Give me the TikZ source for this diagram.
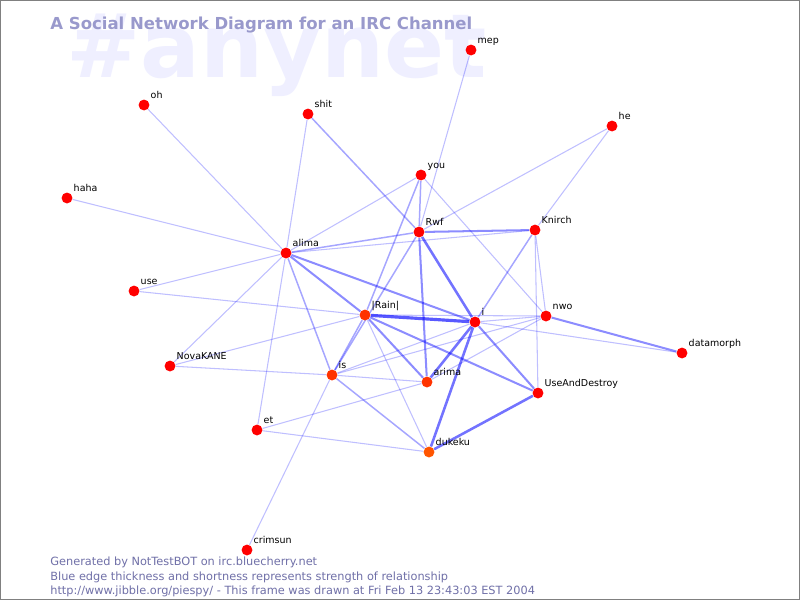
\documentclass[tikz,border=0pt]{standalone}
\usepackage{fontspec}
\setmainfont{DejaVu Sans}
\definecolor{titleblue}{HTML}{9999CC}
\definecolor{markblue}{HTML}{EFEFFF}
\definecolor{footblue}{HTML}{7070A8}
\definecolor{edgeblue}{HTML}{0000FF}
\definecolor{userred}{HTML}{FF0000}
\definecolor{userorange}{HTML}{FF3300}
\definecolor{userlight}{HTML}{FF5500}
\pgfdeclarelayer{back}
\pgfdeclarelayer{ties}
\pgfsetlayers{back,ties,main}
\tikzset{
  user/.style={circle,fill=userred,inner sep=0pt,minimum size=6.2pt},
  hot/.style={user,fill=userorange},
  lbl/.style={anchor=base west,inner sep=0pt,xshift=1.3pt,yshift=1.1pt,
    font=\fontsize{5.4}{6}\selectfont},
  w1/.style={draw=edgeblue,draw opacity=0.25,line width=0.6pt},
  w2/.style={draw=edgeblue,draw opacity=0.35,line width=0.85pt},
  w3/.style={draw=edgeblue,draw opacity=0.45,line width=1.15pt},
  w4/.style={draw=edgeblue,draw opacity=0.55,line width=1.45pt},
  w5/.style={draw=edgeblue,draw opacity=0.65,line width=1.8pt},
  foot/.style={anchor=base west,inner sep=0pt,text=footblue,
    font=\fontsize{6.45}{7}\selectfont}
}
\begin{document}
\begin{tikzpicture}[x=0.02cm,y=-0.02cm]
  \useasboundingbox (0,0) rectangle (800,600);
  \begin{pgfonlayer}{back}
    \fill[white] (0,0) rectangle (800,600);
    \node[anchor=base west,inner sep=0pt,text=markblue,font=\bfseries\fontsize{50.4}{51}\selectfont] (mark) at (66,77) {\#anynet};
  \end{pgfonlayer}
  \node[anchor=base west,inner sep=0pt,text=titleblue,font=\bfseries\fontsize{9.4}{10}\selectfont] (title) at (50,29) {A Social Network Diagram for an IRC Channel};

  % users
  \node[user,label={[lbl]north east:mep}] (mep) at (471,50) {};
  \node[user,label={[lbl]north east:oh}] (oh) at (144,105) {};
  \node[user,label={[lbl]north east:shit}] (shit) at (308,114) {};
  \node[user,label={[lbl]north east:he}] (he) at (612,126) {};
  \node[user,label={[lbl]north east:you}] (you) at (421,175) {};
  \node[user,label={[lbl]north east:haha}] (haha) at (67,198) {};
  \node[user,label={[lbl]north east:Rwf}] (rwf) at (419,232) {};
  \node[user,label={[lbl]north east:Knirch}] (knirch) at (535,230) {};
  \node[user,label={[lbl]north east:alima}] (alima) at (286,253) {};
  \node[user,label={[lbl]north east:use}] (use) at (134,291) {};
  \node[hot,label={[lbl]north east:\textbar Rain\textbar}] (rain) at (365,315) {};
  \node[user,label={[lbl]north east:i}] (i) at (475,322) {};
  \node[user,label={[lbl]north east:nwo}] (nwo) at (546,316) {};
  \node[user,label={[lbl]north east:datamorph}] (datamorph) at (682,353) {};
  \node[user,label={[lbl]north east:NovaKANE}] (nova) at (170,366) {};
  \node[hot,label={[lbl]north east:is}] (is) at (332,375) {};
  \node[hot,label={[lbl]north east:arima}] (arima) at (427,382) {};
  \node[user,label={[lbl]north east:UseAndDestroy}] (uad) at (538,393) {};
  \node[user,label={[lbl]north east:et}] (et) at (257,430) {};
  \node[hot,fill=userlight,label={[lbl]north east:dukeku}] (dukeku) at (429,452) {};
  \node[user,label={[lbl]north east:crimsun}] (crimsun) at (247,550) {};

  % relationships
  \begin{pgfonlayer}{ties}
    \draw[w1] (mep) -- (rwf);
    \draw[w1] (oh) -- (alima);
    \draw[w1] (shit) -- (alima);
    \draw[w2] (shit) -- (rwf);
    \draw[w1] (he) -- (rwf);
    \draw[w1] (he) -- (knirch);
    \draw[w1] (haha) -- (alima);
    \draw[w1] (you) -- (alima);
    \draw[w2] (you) -- (rwf);
    \draw[w2] (you) -- (rain);
    \draw[w1] (you) -- (nwo);
    \draw[w2] (alima) -- (rwf);
    \draw[w1] (alima) -- (knirch);
    \draw[w3] (alima) -- (rain);
    \draw[w3] (alima) -- (i);
    \draw[w2] (alima) -- (is);
    \draw[w1] (alima) -- (et);
    \draw[w1] (alima) -- (nova);
    \draw[w1] (alima) -- (use);
    \draw[w1] (use) -- (rain);
    \draw[w1] (nova) -- (rain);
    \draw[w1] (nova) -- (is);
    \draw[w3] (rwf) -- (knirch);
    \draw[w2] (rwf) -- (is);
    \draw[w4] (rwf) -- (i);
    \draw[w3] (rwf) -- (arima);
    \draw[w2] (knirch) -- (i);
    \draw[w1] (knirch) -- (nwo);
    \draw[w1] (knirch) -- (uad);
    \draw[w5] (rain) -- (i);
    \draw[w3] (rain) -- (arima);
    \draw[w3] (rain) -- (uad);
    \draw[w1] (rain) -- (dukeku);
    \draw[w2] (rain) -- (is);
    \draw[w1] (rain) -- (nwo);
    \draw[w4] (i) -- (arima);
    \draw[w4] (i) -- (dukeku);
    \draw[w3] (i) -- (uad);
    \draw[w1] (i) -- (nwo);
    \draw[w1] (i) -- (datamorph);
    \draw[w1] (i) -- (is);
    \draw[w3] (nwo) -- (datamorph);
    \draw[w1] (nwo) -- (is);
    \draw[w1] (nwo) -- (arima);
    \draw[w1] (is) -- (arima);
    \draw[w2] (is) -- (dukeku);
    \draw[w1] (is) -- (crimsun);
    \draw[w1] (et) -- (arima);
    \draw[w1] (et) -- (dukeku);
    \draw[w4] (uad) -- (dukeku);
  \end{pgfonlayer}

  \node[foot] (gen) at (50,565) {Generated by NotTestBOT on irc.bluecherry.net};
  \node[foot] (key) at (50,580) {Blue edge thickness and shortness represents strength of relationship};
  \node[foot] (stamp) at (50,594.5) {http://www.jibble.org/piespy/ - This frame was drawn at Fri Feb 13 23:43:03 EST 2004};
  \draw[gray,line width=0.6pt] (0.5,0.5) rectangle (799.5,599.5);
\end{tikzpicture}
\end{document}
